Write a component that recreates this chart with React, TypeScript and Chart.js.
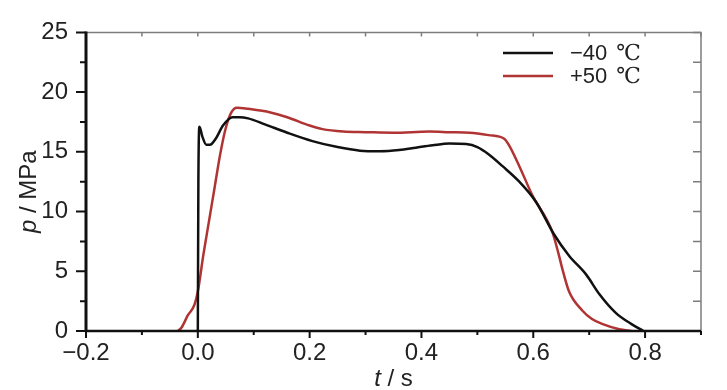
import React, { useEffect, useRef } from 'react';
import { Chart, registerables } from 'chart.js';

Chart.register(...registerables);

// ---- data ----
const blackT = [0, 0.001, 0.003, 0.008, 0.015, 0.022, 0.032, 0.045, 0.062, 0.075, 0.09, 0.12, 0.16, 0.205, 0.25, 0.29, 0.325, 0.36, 0.39, 0.42, 0.45, 0.48, 0.5, 0.52, 0.545, 0.575, 0.605, 0.637, 0.664, 0.695, 0.718, 0.748, 0.775, 0.797];
const blackP = [0, 12.5, 17.1, 16.3, 15.6, 15.6, 16.1, 17.2, 17.9, 17.9, 17.8, 17.3, 16.6, 15.9, 15.4, 15.1, 15.05, 15.15, 15.35, 15.55, 15.7, 15.65, 15.4, 14.8, 13.8, 12.5, 10.8, 8.1, 6.3, 4.7, 3.1, 1.5, 0.6, 0];

const redT = [-0.036, -0.029, -0.018, -0.006, 0, 0.01, 0.02, 0.03, 0.04, 0.05, 0.06, 0.07, 0.09, 0.13, 0.16, 0.2, 0.223, 0.26, 0.3, 0.35, 0.414, 0.45, 0.486, 0.52, 0.548, 0.556, 0.575, 0.598, 0.634, 0.645, 0.652, 0.664, 0.688, 0.705, 0.723, 0.754, 0.775];
const redP = [0, 0.3, 1.3, 2.2, 3.3, 6.4, 9.2, 12.0, 14.8, 17.0, 18.3, 18.7, 18.6, 18.3, 17.9, 17.2, 16.9, 16.7, 16.65, 16.6, 16.7, 16.65, 16.6, 16.4, 16.1, 15.6, 13.8, 11.4, 8.3, 6.5, 5.2, 3.3, 1.7, 1.0, 0.6, 0.15, 0];

const seriesNames = ['−40', '+50'];
const unitText = '℃';
const seriesColors = ['#111111', '#b03434'];

const xMajor = [-0.2, 0, 0.2, 0.4, 0.6, 0.8];
const xMajorLabels = ['−0.2', '0.0', '0.2', '0.4', '0.6', '0.8'];
const xMinor = [-0.1, 0.1, 0.3, 0.5, 0.7, 0.9];
const xAll = [-0.2, -0.1, 0, 0.1, 0.2, 0.3, 0.4, 0.5, 0.6, 0.7, 0.8, 0.9];
const yMajor = [0, 5, 10, 15, 20, 25];
const yMajorLabels = ['0', '5', '10', '15', '20', '25'];
const yMinor = [2.5, 7.5, 12.5, 17.5, 22.5];
const yAll = [0, 2.5, 5, 7.5, 10, 12.5, 15, 17.5, 20, 22.5, 25];

const xRange = [-0.2, 0.9];
const yRange = [0, 25];

const FONT = "'Liberation Sans Narrow', 'Arial Narrow', 'Liberation Sans', Arial, sans-serif";

const framePlugin = {
  id: 'frame',
  afterDraw(chart: any) {
    const { ctx, chartArea, scales } = chart;
    const { left, right, top, bottom } = chartArea;
    const x = scales.x;
    const y = scales.y;
    ctx.save();
    // top & right thin gray frame
    ctx.strokeStyle = '#7d7d7d';
    ctx.lineWidth = 1.5;
    ctx.beginPath();
    ctx.moveTo(left, top);
    ctx.lineTo(right, top);
    ctx.lineTo(right, bottom);
    ctx.stroke();
    ctx.beginPath();
    for (const v of xAll) {
      const px = x.getPixelForValue(v);
      ctx.moveTo(px, top);
      ctx.lineTo(px, top + 4);
    }
    for (const v of yAll) {
      const py = y.getPixelForValue(v);
      ctx.moveTo(right, py);
      ctx.lineTo(right - 8, py);
    }
    ctx.stroke();

    // left & bottom black axes
    ctx.strokeStyle = '#111';
    ctx.lineWidth = 3;
    ctx.beginPath();
    ctx.moveTo(left, top - 1);
    ctx.lineTo(left, bottom + 1);
    ctx.stroke();
    ctx.lineWidth = 2.5;
    ctx.beginPath();
    ctx.moveTo(left, bottom);
    ctx.lineTo(right, bottom);
    ctx.stroke();
    ctx.lineWidth = 2;
    ctx.beginPath();
    for (const v of yMajor) {
      const py = y.getPixelForValue(v);
      ctx.moveTo(left, py);
      ctx.lineTo(left - 10, py);
    }
    for (const v of yMinor) {
      const py = y.getPixelForValue(v);
      ctx.moveTo(left, py);
      ctx.lineTo(left - 6, py);
    }
    for (const v of xMajor) {
      const px = x.getPixelForValue(v);
      ctx.moveTo(px, bottom);
      ctx.lineTo(px, bottom + 7);
    }
    for (const v of xMinor) {
      const px = x.getPixelForValue(v);
      ctx.moveTo(px, bottom);
      ctx.lineTo(px, bottom + 4);
    }
    ctx.stroke();

    // axis titles
    ctx.fillStyle = '#222';
    ctx.textBaseline = 'alphabetic';
    const italic = `italic 24px ${FONT}`;
    const normal = `24px ${FONT}`;
    // x title
    ctx.font = italic;
    const wt = ctx.measureText('t').width;
    ctx.font = normal;
    const ws = ctx.measureText(' / s').width;
    const cx = (left + right) / 2;
    let sx = cx - (wt + ws) / 2;
    ctx.textAlign = 'left';
    ctx.font = italic;
    ctx.fillText('t', sx, 386);
    ctx.font = normal;
    ctx.fillText(' / s', sx + wt, 386);
    // y title
    ctx.save();
    ctx.translate(36, (top + bottom) / 2 + 10);
    ctx.rotate(-Math.PI / 2);
    ctx.font = italic;
    const wp = ctx.measureText('p').width;
    ctx.font = normal;
    const wm = ctx.measureText(' / MPa').width;
    let sy = -(wp + wm) / 2;
    ctx.font = italic;
    ctx.fillText('p', sy, 0);
    ctx.font = normal;
    ctx.fillText(' / MPa', sy + wp, 0);
    ctx.restore();

    // legend
    const lx0 = 503, lx1 = 553, tx = 570;
    const ly = [53, 76];
    ctx.lineWidth = 2.5;
    ctx.textBaseline = 'middle';
    seriesNames.forEach((name, i) => {
      ctx.strokeStyle = seriesColors[i];
      ctx.beginPath();
      ctx.moveTo(lx0, ly[i]);
      ctx.lineTo(lx1, ly[i]);
      ctx.stroke();
      ctx.font = `22px ${FONT}`;
      ctx.fillStyle = '#222';
      ctx.fillText(name, tx, ly[i] + 1);
      const w = ctx.measureText(name).width;
      ctx.font = `22px 'DejaVu Serif', 'Liberation Serif', serif`;
      ctx.fillText(unitText, tx + w + 9, ly[i] + 1);
    });
    ctx.restore();
  },
};

export default function App() {
  const ref = useRef<HTMLCanvasElement | null>(null);
  useEffect(() => {
    if (!ref.current) return;
    const chart = new Chart(ref.current, {
      type: 'line',
      data: {
        datasets: [
          {
            label: seriesNames[0] + ' ' + unitText,
            data: blackT.map((t, i) => ({ x: t, y: blackP[i] })),
            borderColor: seriesColors[0],
            borderWidth: 2.5,
            pointRadius: 0,
            cubicInterpolationMode: 'monotone',
          },
          {
            label: seriesNames[1] + ' ' + unitText,
            data: redT.map((t, i) => ({ x: t, y: redP[i] })),
            borderColor: seriesColors[1],
            borderWidth: 2.5,
            pointRadius: 0,
            cubicInterpolationMode: 'monotone',
          },
        ],
      },
      options: {
        animation: false,
        responsive: false,
        devicePixelRatio: 1,
        layout: { padding: { top: 22, right: 26, left: 0, bottom: 0 } },
        plugins: { legend: { display: false }, tooltip: { enabled: false } },
        scales: {
          x: {
            type: 'linear',
            min: xRange[0],
            max: xRange[1],
            grid: { display: false, drawTicks: false },
            border: { display: false },
            afterBuildTicks: (s: any) => {
              s.ticks = xMajor.map((value) => ({ value }));
            },
            afterFit: (s: any) => {
              s.height = 59;
            },
            ticks: {
              autoSkip: false,
              maxRotation: 0,
              padding: 8,
              color: '#222',
              font: { family: FONT, size: 24 },
              callback: (_v: any, i: number) => xMajorLabels[i],
            },
          },
          y: {
            type: 'linear',
            min: yRange[0],
            max: yRange[1],
            grid: { display: false, drawTicks: false },
            border: { display: false },
            afterBuildTicks: (s: any) => {
              s.ticks = yMajor.map((value) => ({ value }));
            },
            afterFit: (s: any) => {
              s.width = 86;
            },
            ticks: {
              autoSkip: false,
              padding: 18,
              color: '#222',
              font: { family: FONT, size: 24 },
              callback: (_v: any, i: number) => yMajorLabels[i],
            },
          },
        },
      },
      plugins: [framePlugin],
    });
    return () => chart.destroy();
  }, []);
  return (
    <div style={{ position: 'absolute', left: 0, top: 0, width: 727, height: 390, background: '#fff' }}>
      <canvas ref={ref} width={727} height={390} />
    </div>
  );
}
